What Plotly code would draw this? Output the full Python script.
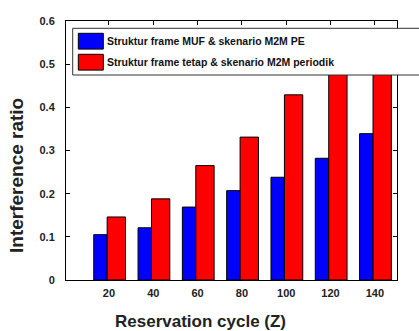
import plotly.graph_objects as go

# ---- data ----
categories = ["20", "40", "60", "80", "100", "120", "140"]
muf_pe = [0.105, 0.121, 0.169, 0.207, 0.238, 0.282, 0.339]
tetap_periodik = [0.146, 0.188, 0.265, 0.331, 0.429, 0.52, 0.56]
series_names = ["Struktur frame MUF & skenario M2M PE",
                "Struktur frame tetap & skenario M2M periodik"]
y_ticks = [0, 0.1, 0.2, 0.3, 0.4, 0.5, 0.6]
y_tick_text = ["0", "0.1", "0.2", "0.3", "0.4", "0.5", "0.6"]

W, H = 419, 331
ML, MR, MT, MB = 66, 22, 21, 51
PW, PH = W - ML - MR, H - MT - MB

def px_x(p):
    return (p - ML) / PW

def px_y(p):
    return (H - p - MB) / PH

FONT = "Liberation Sans, Arial, sans-serif"
xpos = list(range(1, len(categories) + 1))

fig = go.Figure()
fig.add_trace(go.Bar(
    x=xpos, y=muf_pe, name=series_names[0],
    width=0.303, offset=-0.344,
    marker=dict(color="#0000FF", line=dict(color="black", width=1)),
    showlegend=False,
))
fig.add_trace(go.Bar(
    x=xpos, y=tetap_periodik, name=series_names[1],
    width=0.414, offset=-0.041,
    marker=dict(color="#FF0000", line=dict(color="black", width=1)),
    showlegend=False,
))

axis_common = dict(
    showline=True, linecolor="black", linewidth=1, mirror="ticks",
    ticks="inside", ticklen=4, tickcolor="black", showgrid=False,
    zeroline=False, layer="below traces",
    tickfont=dict(family=FONT, size=11, color="#222", weight="bold"),
)

fig.update_layout(
    width=W, height=H,
    margin=dict(l=ML, r=MR, t=MT, b=MB, pad=0),
    paper_bgcolor="white", plot_bgcolor="white",
    barmode="overlay",
    xaxis=dict(range=[0.03, 7.5], tickvals=xpos, ticktext=categories,
               ticklabelstandoff=3, **axis_common),
    yaxis=dict(range=[0, 0.6], tickvals=y_ticks, ticktext=y_tick_text,
               ticklabelstandoff=8, **axis_common),
)

# axis titles
fig.add_annotation(text="Reservation cycle (Z)", xref="paper", yref="paper",
                   x=px_x(200.5), y=px_y(321.7), xanchor="center", yanchor="middle",
                   showarrow=False,
                   font=dict(family=FONT, size=17, color="#222", weight="bold"))
fig.add_annotation(text="Interference ratio", xref="paper", yref="paper",
                   x=px_x(16), y=px_y(176), xanchor="center", yanchor="middle",
                   textangle=-90, showarrow=False,
                   font=dict(family=FONT, size=19, color="#222", weight="bold"))

# legend box
fig.add_shape(type="rect", xref="paper", yref="paper", layer="above",
              x0=px_x(72.7), x1=px_x(440), y0=px_y(75), y1=px_y(28.3),
              fillcolor="white", line=dict(color="#333", width=1))
colors = ["#0000FF", "#FF0000"]
sw_tops = [33.3, 54.3]
for name, col, top in zip(series_names, colors, sw_tops):
    fig.add_shape(type="rect", xref="paper", yref="paper", layer="above",
                  x0=px_x(78.3), x1=px_x(103.3), y0=px_y(top + 15.8), y1=px_y(top),
                  fillcolor=col, line=dict(color="black", width=1))
    fig.add_annotation(text=name, xref="paper", yref="paper",
                       x=px_x(105), y=px_y(top + 8), xanchor="left", yanchor="middle",
                       showarrow=False,
                       font=dict(family=FONT, size=10.5, color="#111", weight="bold"))

fig.write_html("out.html")
